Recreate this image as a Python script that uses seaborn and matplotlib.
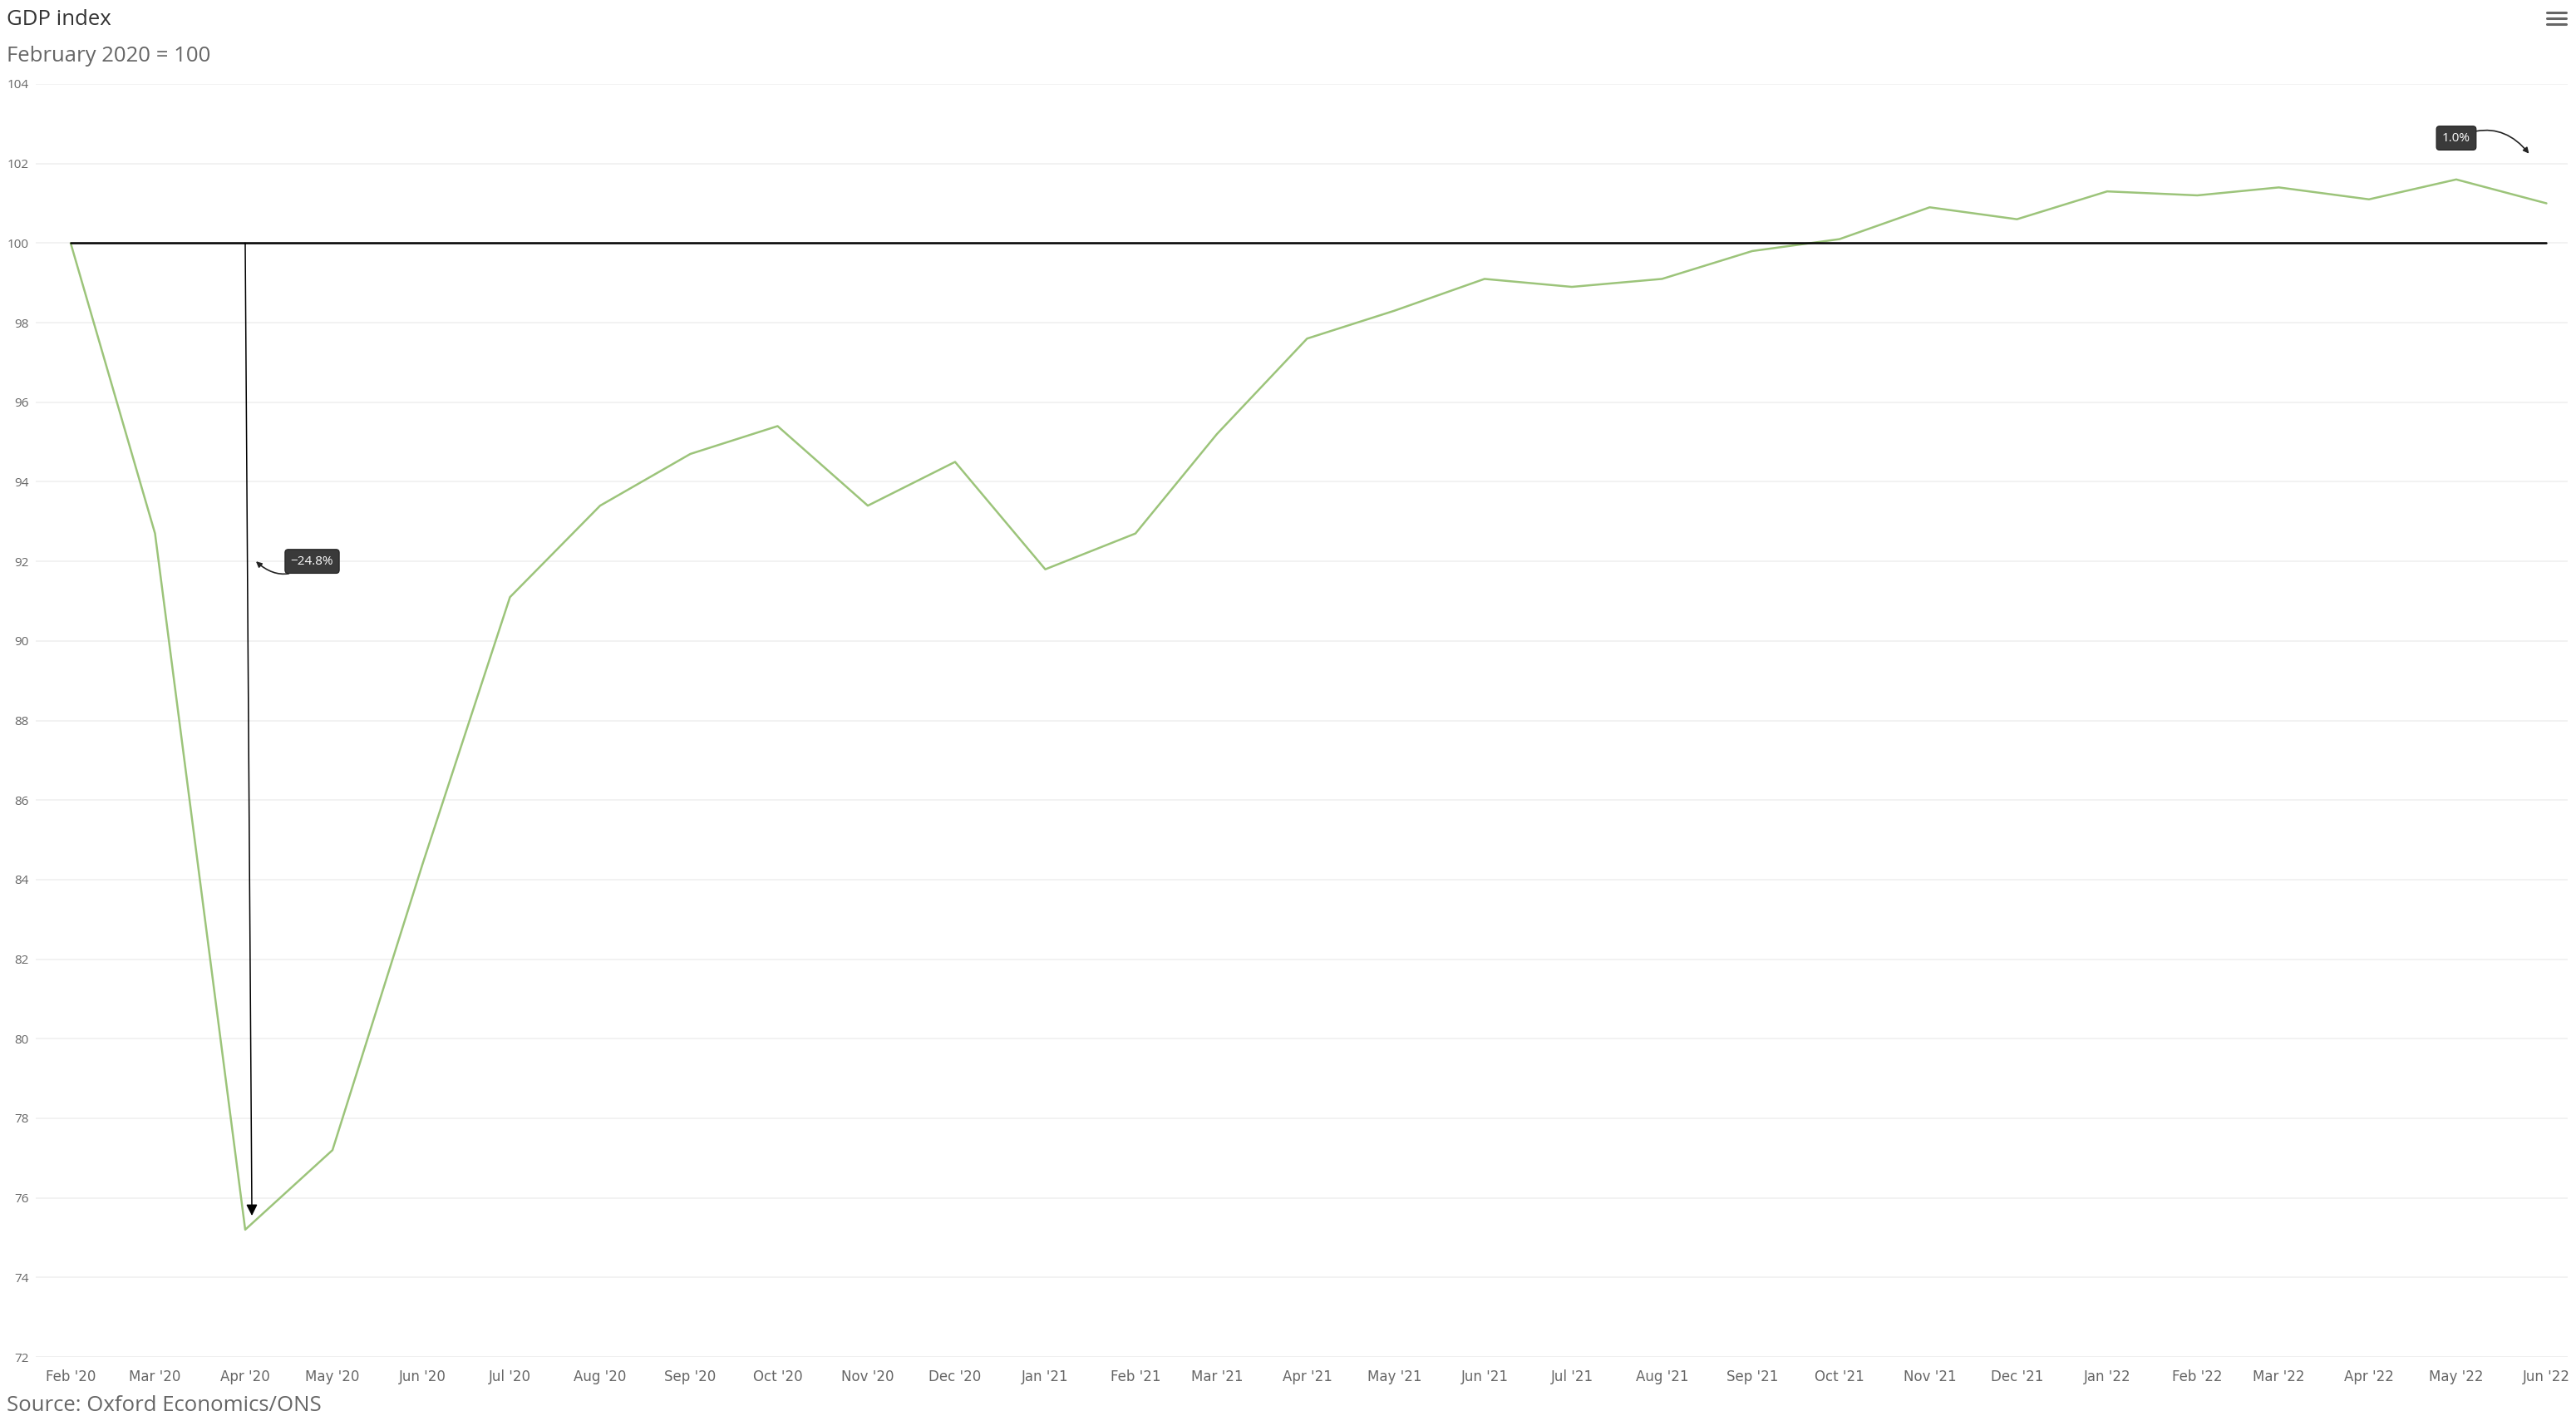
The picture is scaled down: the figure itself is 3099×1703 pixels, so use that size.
import matplotlib
matplotlib.use("Agg")
import matplotlib.pyplot as plt
import matplotlib.dates as mdates
from matplotlib.lines import Line2D
import seaborn as sns
import pandas as pd

# ---------------- data ----------------
months = pd.date_range("2020-02-01", "2022-06-01", freq="MS")
gdp_index = [100.0, 92.7, 75.2, 77.2, 84.4, 91.1, 93.4, 94.7, 95.4, 93.4, 94.5,
             91.8, 92.7, 95.2, 97.6, 98.3, 99.1, 98.9, 99.1, 99.8, 100.1, 100.9, 100.6,
             101.3, 101.2, 101.4, 101.1, 101.6, 101.0]
y_ticks = list(range(72, 105, 2))
baseline = 100
title = "GDP index"
subtitle = "February 2020 = 100"
source = "Source: Oxford Economics/ONS"
drop_label = "\u221224.8%"
latest_label = "1.0%"

df = pd.DataFrame({"date": months, "gdp": gdp_index})

# ---------------- style ----------------
sns.set_style("white")
plt.rcParams["font.family"] = ["Open Sans", "DejaVu Sans"]

W, H = 3099, 1703
fig = plt.figure(figsize=(W / 100, H / 100), dpi=100)
ax = fig.add_axes([43 / W, 1 - 1632 / H, (3089 - 43) / W, (1632 - 101) / H])

line_color = "#9cc47a"
sns.lineplot(data=df, x="date", y="gdp", ax=ax, color=line_color, linewidth=1.8)

# baseline at 100 spanning the data range
ax.plot([months[0], months[-1]], [baseline, baseline], color="black", lw=1.8, zorder=3)

# axes limits
ax.set_ylim(y_ticks[0], y_ticks[-1])
ax.set_xlim(months[0] - pd.Timedelta(days=12), months[-1] + pd.Timedelta(days=7.3))

for s in ax.spines.values():
    s.set_visible(False)

ax.set_yticks(y_ticks)
ax.set_yticklabels([str(t) for t in y_ticks])
ax.grid(axis="y", color="#f0f0f0", lw=1.2)
ax.grid(axis="x", visible=False)
ax.set_axisbelow(True)
ax.tick_params(axis="y", length=0, pad=6, labelsize=11, labelcolor="#666666")

ax.set_xticks(months)
ax.xaxis.set_major_formatter(mdates.DateFormatter("%b '%y"))
ax.tick_params(axis="x", direction="out", length=8.5, width=0.8, color="#e6e6e6",
               pad=2, labelsize=12, labelcolor="#666666")
for lab in ax.get_xticklabels():
    lab.set_fontfamily(["Liberation Sans Narrow", "DejaVu Sans"])
ax.set_xlabel("")
ax.set_ylabel("")
# bottom axis line (light)
ax.axhline(y_ticks[0], color="#ebebeb", lw=1.2, zorder=0)

# ---------------- annotations ----------------
trough_i = 2
trough_date = months[trough_i]
ax.annotate("", xy=(trough_date + pd.Timedelta(days=2.3), gdp_index[trough_i] + 0.35),
            xytext=(trough_date, baseline),
            arrowprops=dict(arrowstyle="-|>", color="black", lw=1.1,
                            mutation_scale=20, shrinkA=0, shrinkB=0), zorder=4)

ax.annotate(drop_label,
            xy=(trough_date + pd.Timedelta(days=3.7), 92.0),
            xytext=(trough_date + pd.Timedelta(days=23), 92.0),
            ha="center", va="center", color="white", fontsize=11,
            bbox=dict(boxstyle="round,pad=0.45,rounding_size=0.25", fc="#3a3a3a", ec="#1e1e1e", lw=0.8),
            arrowprops=dict(arrowstyle="-|>", connectionstyle="arc3,rad=-0.45", color="#222222",
                            lw=1.2, mutation_scale=10, shrinkA=0, shrinkB=0), zorder=5)

ax.annotate(latest_label,
            xy=(months[-1] - pd.Timedelta(days=6), 102.25),
            xytext=(months[-2], 102.64),
            ha="center", va="center", color="white", fontsize=11,
            bbox=dict(boxstyle="round,pad=0.45,rounding_size=0.25", fc="#3a3a3a", ec="#1e1e1e", lw=0.8),
            arrowprops=dict(arrowstyle="-|>", connectionstyle="arc3,rad=-0.4", color="#222222",
                            lw=1.2, mutation_scale=10, shrinkA=0, shrinkB=0), zorder=5)

# ---------------- titles ----------------
fig.text(8 / W, 1 - 23 / H, title, ha="left", va="center", fontsize=18.5, color="#333333")
fig.text(8 / W, 1 - 68 / H, subtitle, ha="left", va="center", fontsize=18.5, color="#666666")
fig.text(8 / W, 1 - 1697 / H, source, ha="left", va="baseline", fontsize=18.5, color="#666666")

# hamburger menu icon
for yy in (15, 22, 29):
    fig.add_artist(Line2D([3064 / W, 3087 / W], [1 - yy / H, 1 - yy / H],
                          transform=fig.transFigure, color="#666666", lw=2.2,
                          solid_capstyle="round"))

fig.savefig("out.png", dpi=100)
